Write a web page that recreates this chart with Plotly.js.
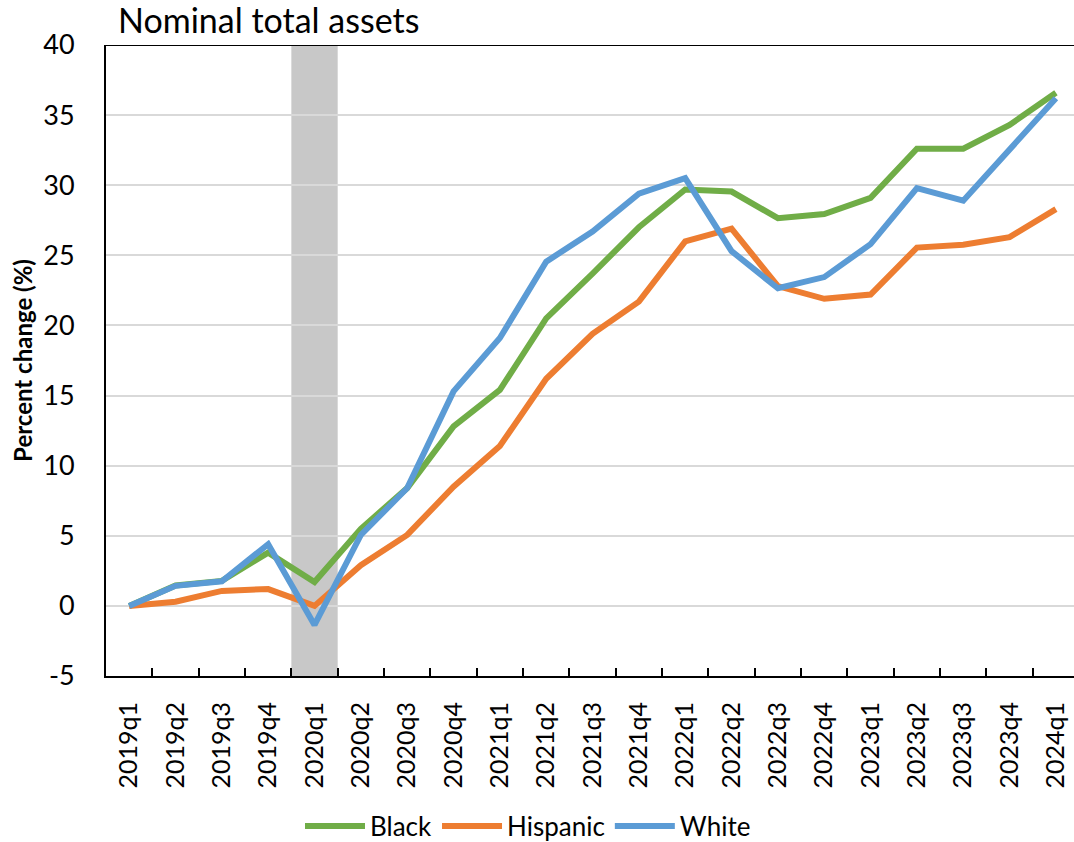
<!DOCTYPE html>
<html>
<head>
<meta charset="utf-8">
<script src="https://cdn.plot.ly/plotly-3.0.1.min.js"></script>
<style>html,body{margin:0;padding:0;background:#fff;}#chart{width:1074px;height:842px;}</style>
</head>
<body>
<div id="chart"></div>
<script>
const quarters = ["2019q1","2019q2","2019q3","2019q4","2020q1","2020q2","2020q3","2020q4",
  "2021q1","2021q2","2021q3","2021q4","2022q1","2022q2","2022q3","2022q4",
  "2023q1","2023q2","2023q3","2023q4","2024q1"];
const black = [0, 1.45, 1.78, 3.8, 1.7, 5.5, 8.4, 12.8, 15.4, 20.5, 23.7, 27.0, 29.7, 29.55, 27.65, 27.95, 29.1, 32.6, 32.6, 34.3, 36.6];
const hispanic = [0, 0.3, 1.07, 1.2, 0.0, 2.9, 5.06, 8.5, 11.4, 16.2, 19.4, 21.7, 26.0, 26.9, 22.8, 21.9, 22.2, 25.55, 25.75, 26.3, 28.3];
const white = [0, 1.43, 1.75, 4.4, -1.36, 5.06, 8.4, 15.3, 19.1, 24.55, 26.7, 29.4, 30.5, 25.3, 22.65, 23.45, 25.8, 29.8, 28.9, 32.5, 36.2];
const recessionQuarter = "2020q1";
const yTicks = [-5, 0, 5, 10, 15, 20, 25, 30, 35, 40];

const FONT = "Lato, 'Open Sans', sans-serif";
const ri = quarters.indexOf(recessionQuarter);

function series(name, y, color) {
  return {type: "scatter", mode: "lines", name: name, x: quarters, y: y,
    line: {color: color, width: 6}, hoverinfo: "skip"};
}

const data = [
  series("Black", black, "#70ad47"),
  series("Hispanic", hispanic, "#ed7d31"),
  series("White", white, "#5b9bd5")
];

const layout = {
  width: 1074, height: 842,
  margin: {l: 106, r: 0, t: 45, b: 166, pad: 0},
  paper_bgcolor: "#fff", plot_bgcolor: "#fff",
  font: {family: FONT, color: "#000", size: 26},
  title: {text: "Nominal total assets", font: {family: FONT, size: 34, color: "#000"},
    xref: "container", x: 118/1074, xanchor: "left", yref: "container", y: 1 - 21/842, yanchor: "middle"},
  showlegend: true,
  legend: {orientation: "h", xref: "paper", x: (300 - 106)/968, xanchor: "left", yref: "container", y: 1 - 826/842, yanchor: "middle",
    font: {family: FONT, size: 26, color: "#000"}, traceorder: "normal", itemwidth: 60},
  xaxis: {type: "category", range: [-0.5, 20.39], showgrid: false, zeroline: false,
    showline: true, linecolor: "#000", linewidth: 2,
    ticks: "inside", tickson: "boundaries", ticklen: 8, tickwidth: 2, tickcolor: "#000",
    tickangle: -90, tickfont: {family: FONT, size: 25, color: "#000"}, ticklabelstandoff: 14,
    fixedrange: true},
  yaxis: {range: [-5, 40], tickvals: yTicks, ticktext: yTicks.map(String),
    showgrid: true, gridcolor: "#d9d9d9", gridwidth: 2, zeroline: false,
    showline: true, linecolor: "#000", linewidth: 2, ticks: "",
    tickfont: {family: FONT, size: 27, color: "#000"}, ticklabelstandoff: 24,
    title: {text: "<b>Percent change (%)</b>", font: {family: FONT, size: 24, color: "#000"}, standoff: 4},
    fixedrange: true},
  shapes: [
    {type: "rect", layer: "below", xref: "x", yref: "y", x0: ri - 0.5, x1: ri + 0.5, y0: -5, y1: 40,
      fillcolor: "#c8c8c8", line: {width: 0}},
    {type: "line", layer: "above", xref: "paper", yref: "y", x0: 0, x1: 1, y0: 40, y1: 40,
      line: {color: "#000", width: 2}}
  ]
};

Plotly.newPlot("chart", data, layout, {displayModeBar: false, staticPlot: true});
</script>
</body>
</html>
